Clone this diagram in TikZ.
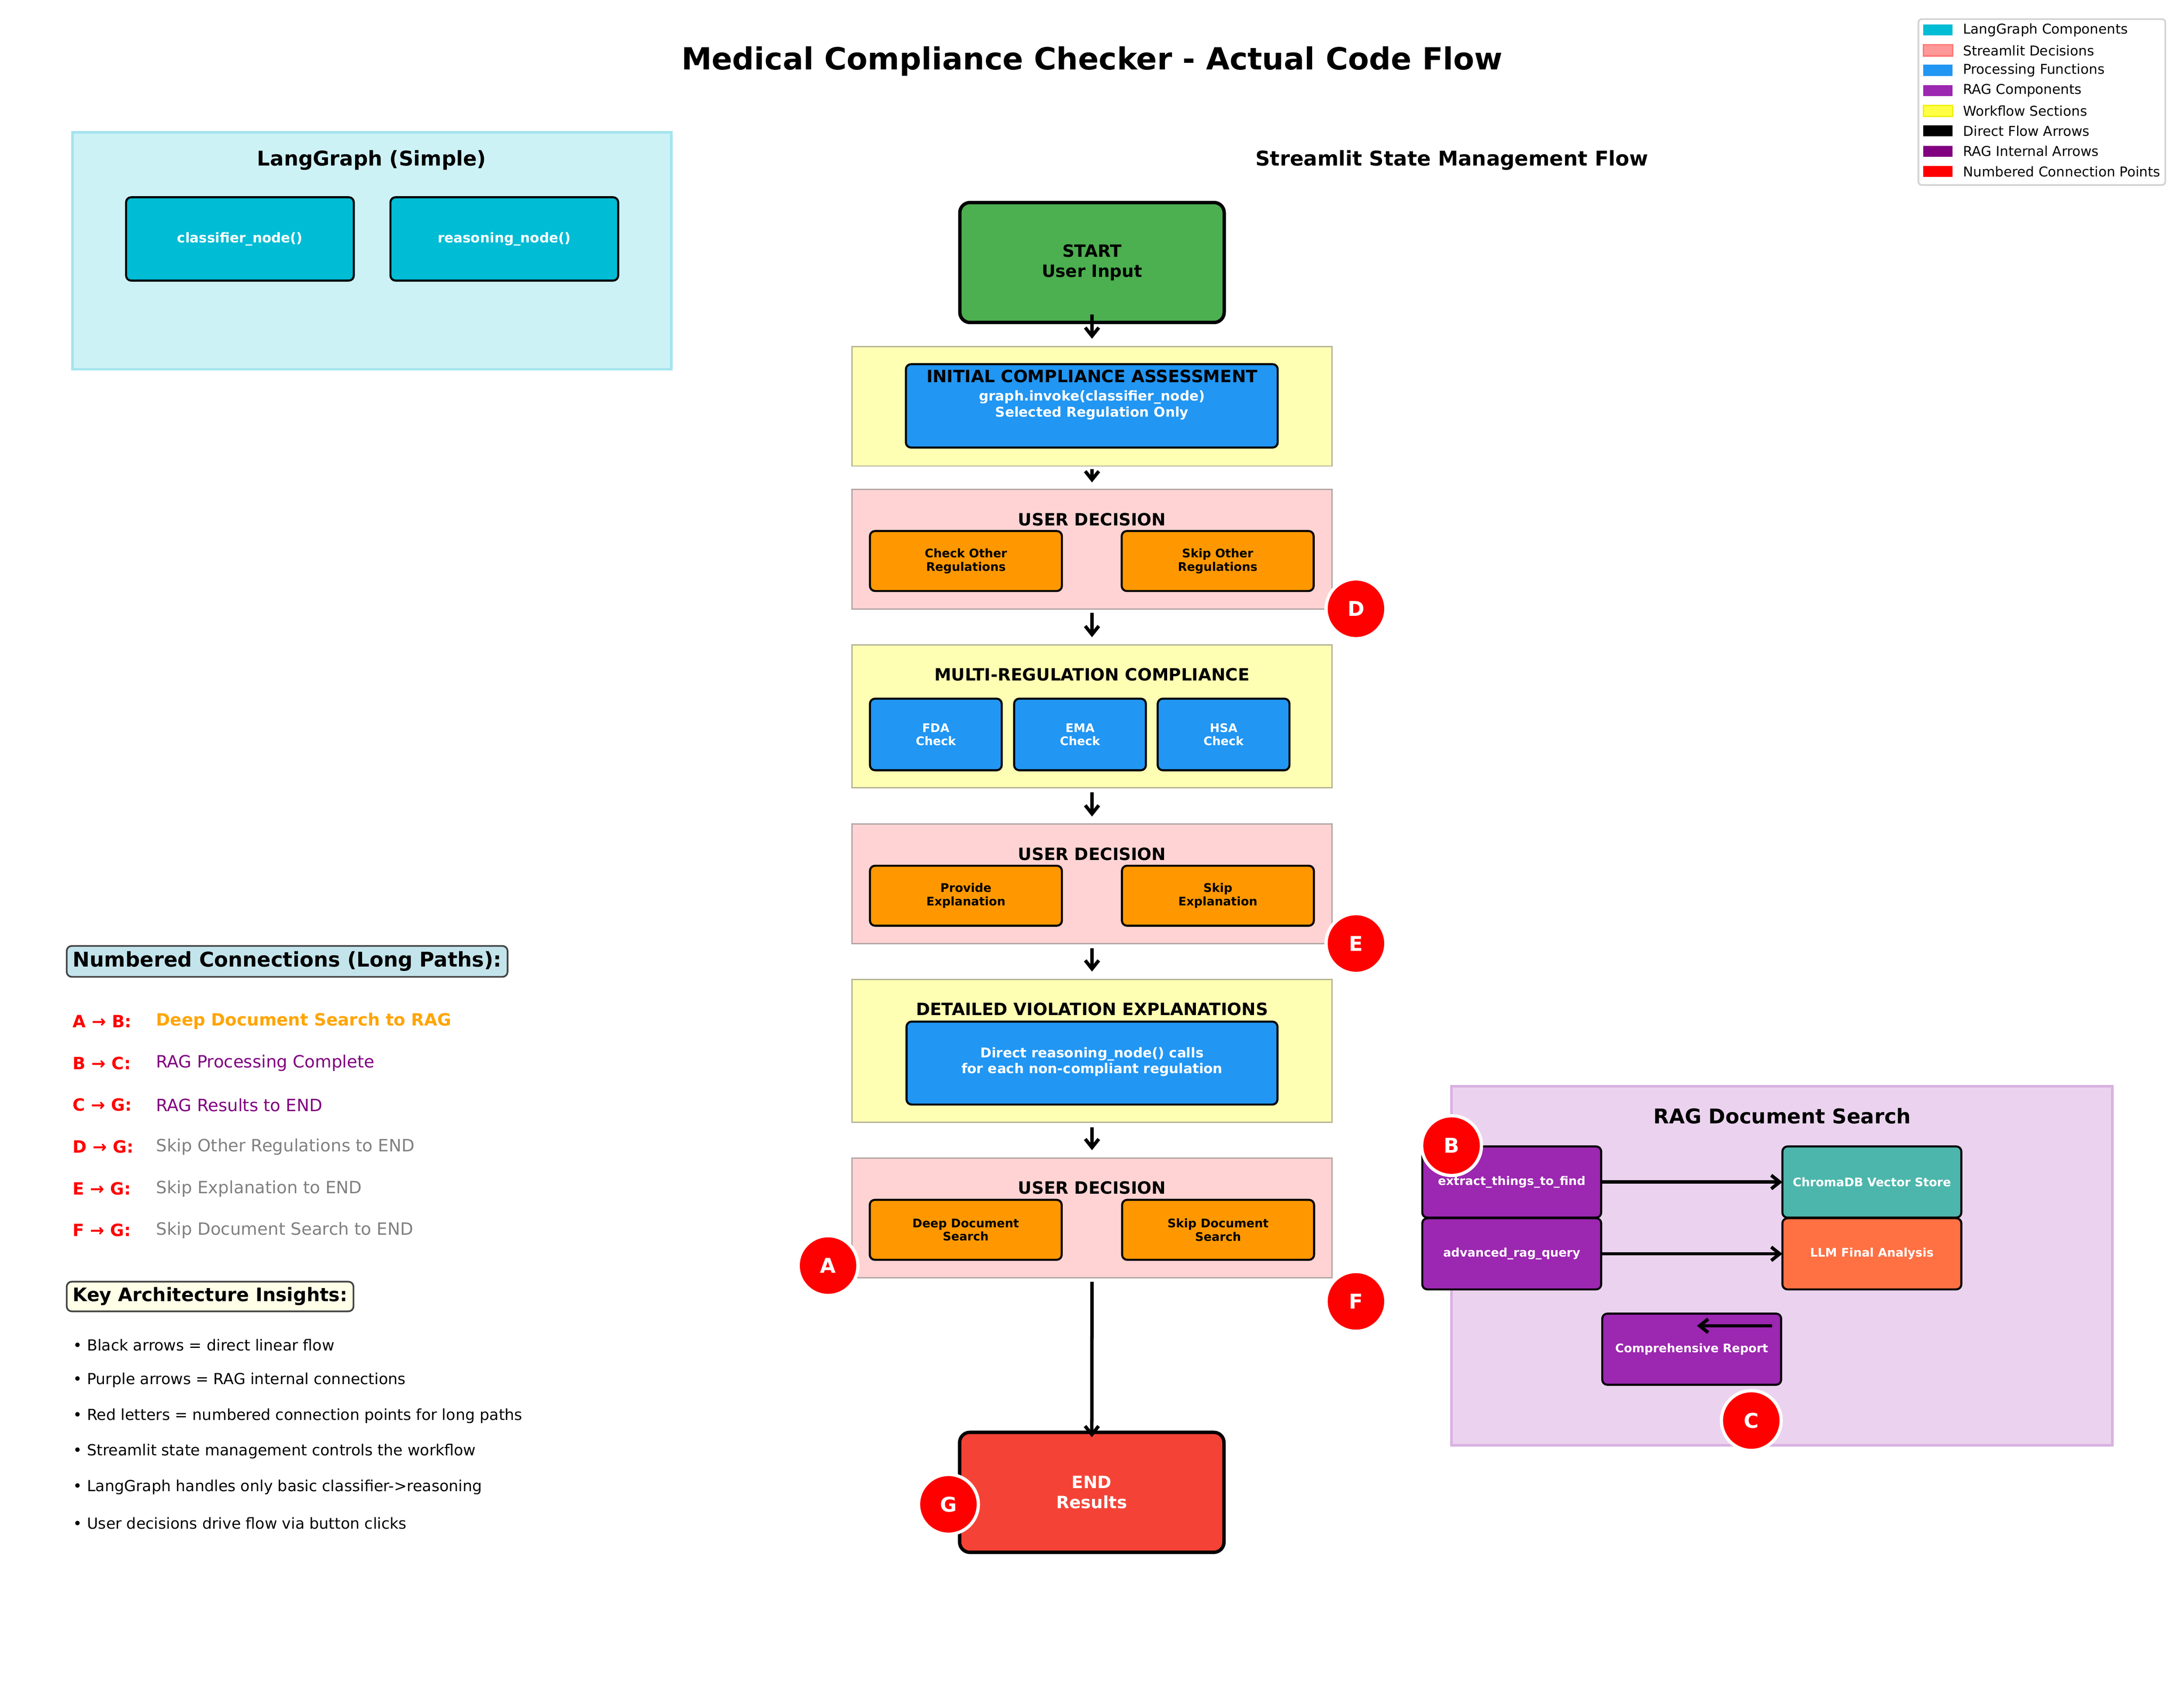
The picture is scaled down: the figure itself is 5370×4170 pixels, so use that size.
\documentclass[tikz,border=0pt]{standalone}
\usepackage{fontspec}
\setmainfont{DejaVu Sans}
\usetikzlibrary{arrows.meta,calc}
\definecolor{lgfill}{HTML}{CCF2F6}
\definecolor{lgedge}{HTML}{A3E4EE}
\definecolor{langcyan}{HTML}{00BCD4}
\definecolor{procblue}{HTML}{2196F3}
\definecolor{ragpurple}{HTML}{9C27B0}
\definecolor{ragfill}{HTML}{EBD3EF}
\definecolor{ragedge}{HTML}{D9B2E0}
\definecolor{startgreen}{HTML}{4CAF50}
\definecolor{endred}{HTML}{F44336}
\definecolor{btnorange}{HTML}{FF9800}
\definecolor{chromateal}{HTML}{4DB6AC}
\definecolor{llmorange}{HTML}{FF7043}
\definecolor{secyellow}{HTML}{FFFFB3}
\definecolor{secyedge}{HTML}{B3B396}
\definecolor{secpink}{HTML}{FFD3D3}
\definecolor{secpedge}{HTML}{B3A4A4}
\definecolor{hdrblue}{HTML}{C4E4EC}
\definecolor{hdryellow}{HTML}{FFFFE8}
\definecolor{hdredge}{HTML}{444444}
\definecolor{legedge}{HTML}{D3D3D3}
\definecolor{lpink}{HTML}{FF9999}
\definecolor{lpinkedge}{HTML}{FF7777}
\definecolor{lyellow}{HTML}{FFFF44}
\definecolor{lyellowedge}{HTML}{F0F000}
\definecolor{ragarrow}{HTML}{800080}
\definecolor{txtorange}{HTML}{FFA500}
\definecolor{txtpurple}{HTML}{800080}
\definecolor{txtgray}{HTML}{808080}
\begin{document}
\begin{tikzpicture}[x=0.24pt,y=-0.24pt,
  every node/.style={inner sep=0pt,outer sep=0pt},
  lgsec/.style={fill=lgfill,draw=lgedge,line width=1.5pt,minimum width=353.52pt,minimum height=139.92pt},
  ragsec/.style={fill=ragfill,draw=ragedge,line width=1.5pt,minimum width=390pt,minimum height=211.92pt},
  lgnode/.style={rounded corners=3pt,draw=black,line width=1.2pt,fill=langcyan,text=white,minimum width=134.4pt,minimum height=49.2pt,font=\fontsize{8}{9.5}\selectfont\bfseries},
  ysec/.style={fill=secyellow,draw=secyedge,line width=0.75pt,minimum width=283.2pt},
  psec/.style={fill=secpink,draw=secpedge,line width=0.75pt,minimum width=283.2pt,minimum height=70.7pt},
  sectitle/.style={font=\fontsize{10}{12}\selectfont\bfseries},
  bluebox/.style={rounded corners=3pt,draw=black,line width=1.2pt,fill=procblue,minimum width=219.4pt,minimum height=49.2pt},
  bluetext/.style={text=white,align=center,font=\fontsize{8}{9.5}\selectfont\bfseries},
  btn/.style={rounded corners=3pt,draw=black,line width=1.2pt,fill=btnorange,minimum width=113.28pt,minimum height=35.4pt,align=center,font=\fontsize{7}{7.9}\selectfont\bfseries},
  chk/.style={rounded corners=3pt,draw=black,line width=1.2pt,fill=procblue,text=white,minimum width=77.76pt,minimum height=42.24pt,align=center,font=\fontsize{7}{7.8}\selectfont\bfseries},
  term/.style={rounded corners=6pt,draw=black,line width=2pt,minimum width=156pt,minimum height=70.8pt,align=center,font=\fontsize{10}{12}\selectfont\bfseries},
  flow/.style={draw=black,line width=2pt,-{Straight Barb[length=5pt,width=8pt]}},
  conn/.style={circle,fill=red,draw=white,line width=1.92pt,minimum size=35.28pt,text=white,font=\fontsize{12}{14}\selectfont\bfseries},
  ragbox/.style={rounded corners=3pt,draw=black,line width=1.2pt,minimum width=105.6pt,minimum height=42pt,text=white,font=\fontsize{7}{8}\selectfont\bfseries},
  lpatch/.style={minimum width=17.28pt,minimum height=6.48pt},
  ltext/.style={anchor=west,font=\fontsize{8}{9.6}\selectfont},
  rowlab/.style={anchor=west,text=red,font=\fontsize{10}{12}\selectfont\bfseries},
  rowdesc/.style={anchor=west,font=\fontsize{10}{12}\selectfont},
  bulletline/.style={anchor=west,font=\fontsize{9}{11}\selectfont},
  hdr/.style={anchor=west,draw=hdredge,line width=1pt,rounded corners=3pt,inner xsep=3.6pt,font=\fontsize{12}{14}\selectfont\bfseries}
]
\path[use as bounding box,fill=white] (0,0) rectangle (5370,4170);

% title
\node[font=\fontsize{18}{22}\selectfont\bfseries] (title) at (2685,151) {Medical Compliance Checker - Actual Code Flow};

% LangGraph section
\node[lgsec] (lgsec) at (914.5,616.5) {};
\node[font=\fontsize{12}{14}\selectfont\bfseries] (lgtitle) at (914,394) {LangGraph (Simple)};
\node[lgnode] (classifier) at (590,587.5) {classifier\_node()};
\node[lgnode] (reasoning) at (1240,587.5) {reasoning\_node()};

% streamlit title
\node[font=\fontsize{12}{14}\selectfont\bfseries] (sttitle) at (3570,394) {Streamlit State Management Flow};

% central flow
\node[term,fill=startgreen] (start) at (2685,645.5) {START\\User Input};

\node[ysec,minimum height=70.56pt] (sec1) at (2685,999) {};
\node[bluebox] (blue1) at (2684.5,998) {};
\node[sectitle] (sec1title) at (2685,925) {INITIAL COMPLIANCE ASSESSMENT};
\node[bluetext] (blue1text) at (2685,996) {graph.invoke(classifier\_node)\\Selected Regulation Only};

\node[psec] (sec2) at (2685,1350.5) {};
\node[sectitle] (sec2title) at (2685,1277) {USER DECISION};
\node[btn] (checkother) at (2375,1379.5) {Check Other\\Regulations};
\node[btn] (skipother) at (2994,1379.5) {Skip Other\\Regulations};

\node[ysec,minimum height=84.3pt] (sec3) at (2685,1761.5) {};
\node[sectitle] (sec3title) at (2685,1659) {MULTI-REGULATION COMPLIANCE};
\node[chk] (fda) at (2301,1806) {FDA\\Check};
\node[chk] (ema) at (2655.5,1806) {EMA\\Check};
\node[chk] (hsa) at (3008.5,1806) {HSA\\Check};

\node[psec] (sec4) at (2685,2173) {};
\node[sectitle] (sec4title) at (2685,2100) {USER DECISION};
\node[btn] (provide) at (2375,2202.5) {Provide\\Explanation};
\node[btn] (skipexpl) at (2994.5,2202.5) {Skip\\Explanation};

\node[ysec,minimum height=84.5pt] (sec5) at (2685,2584) {};
\node[sectitle] (sec5title) at (2685,2481) {DETAILED VIOLATION EXPLANATIONS};
\node[bluebox,minimum width=218.9pt,minimum height=48.96pt] (blue5) at (2685,2614) {};
\node[bluetext] (blue5text) at (2685,2611) {Direct reasoning\_node() calls\\for each non-compliant regulation};

\node[psec] (sec6) at (2685,2994.5) {};
\node[sectitle] (sec6title) at (2685,2921) {USER DECISION};
\node[btn] (deepdoc) at (2374.5,3024) {Deep Document\\Search};
\node[btn] (skipdoc) at (2995,3024) {Skip Document\\Search};

\node[term,fill=endred,text=white] (finish) at (2684.5,3669.5) {END\\Results};

% flow arrows
\draw[flow] ($(start.south)+(0,-20)$) -- ($(sec1.north)+(0,-19)$);
\draw[flow] ($(sec1.south)+(0,8)$) -- ($(sec2.north)+(0,-17)$);
\draw[flow] ($(sec2.south)+(0,9)$) -- ($(sec3.north)+(0,-19)$);
\draw[flow] ($(sec3.south)+(0,11)$) -- ($(sec4.north)+(0,-18)$);
\draw[flow] ($(sec4.south)+(0,11)$) -- ($(sec5.north)+(0,-19)$);
\draw[flow] ($(sec5.south)+(0,12)$) -- ($(sec6.north)+(0,-19)$);
\draw[flow] ($(sec6.south)+(0,10)$) -- ($(finish.north)+(0,12)$);

% RAG section
\node[ragsec] (ragsec) at (4381.5,3112.5) {};
\node[font=\fontsize{12}{14}\selectfont\bfseries] (ragtitle) at (4382,2744) {RAG Document Search};
\node[ragbox,fill=ragpurple] (extract) at (3717,2906.5) {extract\_things\_to\_find};
\node[ragbox,fill=ragpurple] (advanced) at (3717,3083) {advanced\_rag\_query};
\node[ragbox,fill=chromateal] (chroma) at (4602.5,2906.5) {ChromaDB Vector Store};
\node[ragbox,fill=llmorange] (llm) at (4602.5,3083) {LLM Final Analysis};
\node[ragbox,fill=ragpurple] (report) at (4159.5,3317.5) {Comprehensive Report};
\draw[flow] (extract.east) -- (chroma.west);
\draw[flow] (advanced.east) -- (llm.west);
\coordinate (rptA) at ($(report.north east)+(-22,30)$);
\coordinate (rptB) at ($(report.north east)+(-207,30)$);
\draw[flow] (rptA) -- (rptB);

% connection circles
\node[conn] (cA) at (2036,3112) {A};
\node[conn] (cB) at (3569,2817) {B};
\node[conn] (cC) at (4306,3493) {C};
\node[conn] (cD) at (3334,1497) {D};
\node[conn] (cE) at (3334,2320) {E};
\node[conn] (cF) at (3334,3200) {F};
\node[conn] (cG) at (2332,3699) {G};

% left panel: numbered connections
\node[hdr,fill=hdrblue,minimum height=18.24pt] (nchdr) at (164,2364) {Numbered Connections (Long Paths):};
\node[rowlab] (l1) at (179,2511) {A → B:};
\node[rowdesc,text=txtorange,font=\fontsize{10}{12}\selectfont\bfseries] (d1) at (384,2511) {Deep Document Search to RAG};
\node[rowlab] (l2) at (179,2614) {B → C:};
\node[rowdesc,text=txtpurple] (d2) at (384,2614) {RAG Processing Complete};
\node[rowlab] (l3) at (179,2717) {C → G:};
\node[rowdesc,text=txtpurple] (d3) at (384,2717) {RAG Results to END};
\node[rowlab] (l4) at (179,2820) {D → G:};
\node[rowdesc,text=txtgray] (d4) at (384,2820) {Skip Other Regulations to END};
\node[rowlab] (l5) at (179,2923) {E → G:};
\node[rowdesc,text=txtgray] (d5) at (384,2923) {Skip Explanation to END};
\node[rowlab] (l6) at (179,3025) {F → G:};
\node[rowdesc,text=txtgray] (d6) at (384,3025) {Skip Document Search to END};

% key insights
\node[hdr,fill=hdryellow,minimum height=17.5pt,font=\fontsize{11}{13}\selectfont\bfseries] (kihdr) at (164,3188) {Key Architecture Insights:};
\node[bulletline] (b1) at (180,3307) {• Black arrows = direct linear flow};
\node[bulletline] (b2) at (180,3394) {• Purple arrows = RAG internal connections};
\node[bulletline] (b3) at (180,3482) {• Red letters = numbered connection points for long paths};
\node[bulletline] (b4) at (180,3569) {• Streamlit state management controls the workflow};
\node[bulletline] (b5) at (180,3657) {• LangGraph handles only basic classifier->reasoning};
\node[bulletline] (b6) at (180,3746) {• User decisions drive flow via button clicks};

% legend
\node[draw=legedge,fill=white,line width=1pt,rounded corners=2pt,minimum width=145.7pt,minimum height=97.9pt] (legend) at (5020.5,251) {};
\node[lpatch,fill=langcyan] (lp1) at (4765,74) {};
\node[ltext] (lt1) at (4827,74) {LangGraph Components};
\node[lpatch,fill=lpink,draw=lpinkedge,line width=0.8pt] (lp2) at (4765,124) {};
\node[ltext] (lt2) at (4827,124) {Streamlit Decisions};
\node[lpatch,fill=procblue] (lp3) at (4765,173) {};
\node[ltext] (lt3) at (4827,173) {Processing Functions};
\node[lpatch,fill=ragpurple] (lp4) at (4765,223) {};
\node[ltext] (lt4) at (4827,223) {RAG Components};
\node[lpatch,fill=lyellow,draw=lyellowedge,line width=0.8pt] (lp5) at (4765,273) {};
\node[ltext] (lt5) at (4827,273) {Workflow Sections};
\node[lpatch,fill=black] (lp6) at (4765,322) {};
\node[ltext] (lt6) at (4827,322) {Direct Flow Arrows};
\node[lpatch,fill=ragarrow] (lp7) at (4765,372) {};
\node[ltext] (lt7) at (4827,372) {RAG Internal Arrows};
\node[lpatch,fill=red] (lp8) at (4765,422) {};
\node[ltext] (lt8) at (4827,422) {Numbered Connection Points};
\end{tikzpicture}
\end{document}
